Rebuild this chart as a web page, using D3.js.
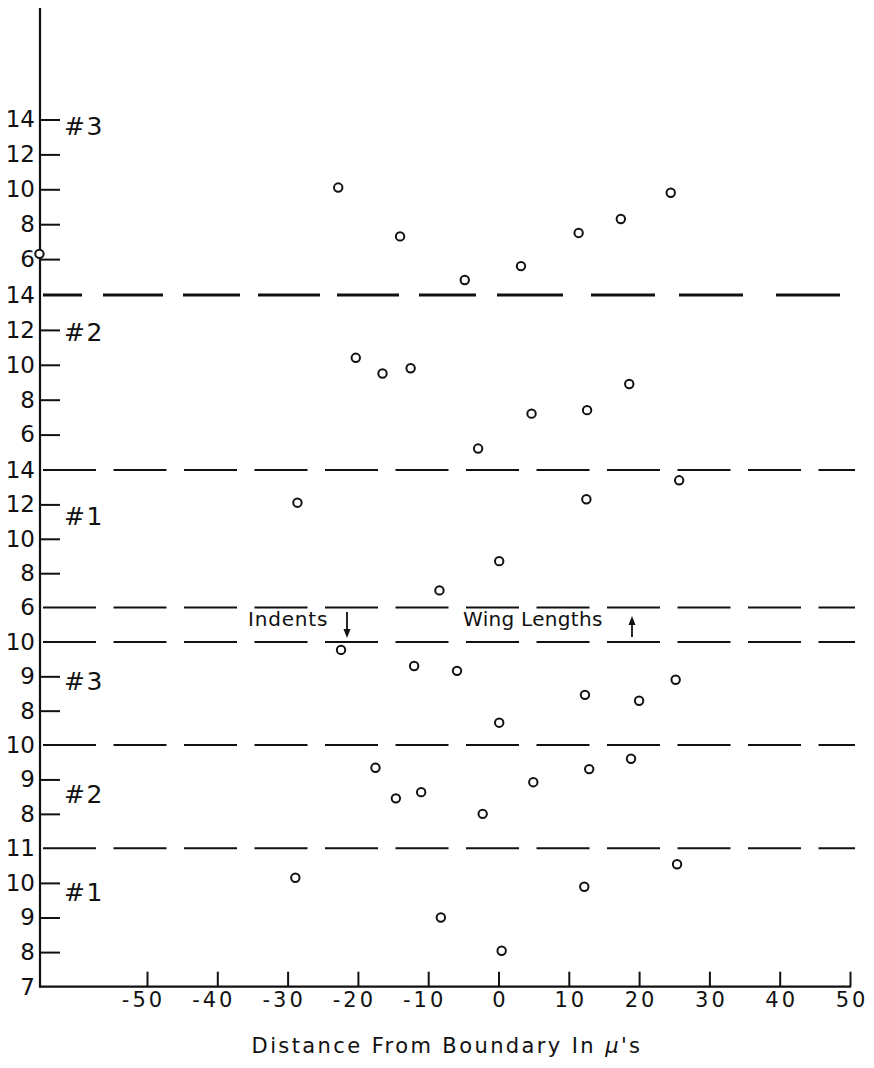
<!DOCTYPE html>
<html>
<head>
<meta charset="utf-8">
<script src="https://cdn.jsdelivr.net/npm/d3@7"></script>
<style>
  body { margin: 0; background: #fff; }
  svg text { font-family: "DejaVu Sans", sans-serif; fill: #111; }
</style>
</head>
<body>
<div id="chart"></div>
<script>
// データ (x = distance from boundary in microns, y = value)
const xTicks = [-50, -40, -30, -20, -10, 0, 10, 20, 30, 40, 50];
const panelNames = ["#3", "#2", "#1", "#3", "#2", "#1"];
const panelDomains = [[4, 14], [4, 14], [4, 14], [7, 10], [7, 10], [7, 11]];
const panelTicks = [[6, 8, 10, 12, 14], [6, 8, 10, 12], [8, 10, 12], [8, 9], [8, 9], [8, 9, 10]];
const panelDashed = [[], [14], [14, 6], [10], [10], [11]];
const panelLabelOnly = [[], [], [], [], [], [7]];
const panelNameAt = [13.6, 11.9, 11.3, 8.86, 8.58, 9.74];

// Wing lengths
const wing3 = [[-65.3, 6.3], [-22.8, 10.1], [-14.0, 7.3], [-4.8, 4.8], [3.2, 5.6], [11.4, 7.5], [17.4, 8.3], [24.5, 9.8]];
const wing2 = [[-20.3, 10.4], [-16.5, 9.5], [-12.5, 9.8], [-2.9, 5.2], [4.7, 7.2], [12.6, 7.4], [18.6, 8.9]];
const wing1 = [[-28.6, 12.1], [-8.4, 7.0], [0.1, 8.7], [12.5, 12.3], [25.7, 13.4]];
// Indents
const indent3 = [[-22.4, 9.77], [-12.0, 9.3], [-5.9, 9.16], [0.1, 7.65], [12.3, 8.46], [20.0, 8.29], [25.2, 8.9]];
const indent2 = [[-17.5, 9.34], [-14.6, 8.45], [-11.0, 8.63], [-2.25, 8.0], [4.95, 8.92], [12.9, 9.3], [18.85, 9.6]];
const indent1 = [[-28.9, 10.15], [-8.2, 9.0], [0.45, 8.04], [12.2, 9.89], [25.4, 10.54]];

const panelData = [wing3, wing2, wing1, indent3, indent2, indent1];

// レイアウト
const width = 874;
const height = 1068;
const axisX = 40;
const axisTop = 8;
const axisBottom = 986.7;
const lineEnd = 855;
const panelRanges = [[294, 119.5], [469.5, 295], [642, 470], [745, 642], [848.3, 745], [986.7, 848.3]];

const svg = d3.select("#chart")
  .append("svg")
  .attr("width", width)
  .attr("height", height);

const x = d3.scaleLinear().domain([-50, 50]).range([147, 850]);
const yScales = panelDomains.map((d, i) => d3.scaleLinear().domain(d).range(panelRanges[i]));

// 破線 (dashed separators)
const topDash = "39,21,60,20,57,18,62,17,62,20,57,21,66,28,64,24,64,33,64,40";
panelDashed.forEach((vals, i) => {
  vals.forEach(v => {
    const yy = yScales[i](v);
    svg.append("line")
      .attr("x1", axisX + 3).attr("x2", i === 1 ? 840 : lineEnd)
      .attr("y1", yy).attr("y2", yy)
      .attr("stroke", "#111")
      .attr("stroke-width", i === 1 ? 2.8 : 2)
      .attr("stroke-dasharray", i === 1 ? topDash : "53,17.5");
  });
});

// y軸の目盛り
panelTicks.forEach((ticks, i) => {
  const g = svg.append("g")
    .attr("transform", `translate(${axisX}, 0)`)
    .call(d3.axisLeft(yScales[i]).tickValues(ticks).tickSizeInner(-20).tickSizeOuter(0).tickPadding(5).tickFormat(d => String(d)));
  g.select(".domain").remove();
  g.selectAll(".tick line").attr("stroke", "#111").attr("stroke-width", 2);
  g.selectAll(".tick text").style("font-size", "23px").attr("fill", "#111");

  const lbl = panelDashed[i].concat(panelLabelOnly[i]);
  const g2 = svg.append("g")
    .attr("transform", `translate(${axisX}, 0)`)
    .call(d3.axisLeft(yScales[i]).tickValues(lbl).tickSize(0).tickPadding(5).tickFormat(d => String(d)));
  g2.select(".domain").remove();
  g2.selectAll(".tick text").style("font-size", "23px").attr("fill", "#111");

  // パネル名
  svg.append("text")
    .attr("x", 64)
    .attr("y", yScales[i](panelNameAt[i]))
    .attr("dy", "0.36em")
    .style("font-size", "25px")
    .style("letter-spacing", "1.5px")
    .text(panelNames[i]);
});

// x軸
const gx = svg.append("g")
  .attr("transform", `translate(0, ${axisBottom})`)
  .call(d3.axisBottom(x).tickValues(xTicks).tickSizeInner(-15).tickSizeOuter(0).tickPadding(5).tickFormat(d => String(d)));
gx.select(".domain").remove();
gx.selectAll(".tick line").attr("stroke", "#111").attr("stroke-width", 2);
gx.selectAll(".tick text")
  .style("font-size", "21px")
  .style("letter-spacing", "3px")
  .attr("fill", "#111")
  .attr("dx", d => d < 0 ? -4 : 1.5);

// 軸線
svg.append("line")
  .attr("x1", axisX).attr("x2", axisX)
  .attr("y1", axisTop).attr("y2", axisBottom + 1)
  .attr("stroke", "#111").attr("stroke-width", 2.2);
svg.append("line")
  .attr("x1", axisX).attr("x2", x(50) + 1)
  .attr("y1", axisBottom).attr("y2", axisBottom)
  .attr("stroke", "#111").attr("stroke-width", 2.2);

// 軸タイトル
const title = svg.append("text")
  .attr("x", 447)
  .attr("y", 1053)
  .attr("text-anchor", "middle")
  .style("font-size", "21px")
  .style("letter-spacing", "2.4px");
title.append("tspan").text("Distance From Boundary In ");
title.append("tspan").style("font-style", "italic").text("μ");
title.append("tspan").text("'s");

// 注記
svg.append("text")
  .attr("x", 248).attr("y", 626)
  .style("font-size", "20px")
  .style("letter-spacing", "0.8px")
  .text("Indents");
svg.append("text")
  .attr("x", 463).attr("y", 626)
  .style("font-size", "20px")
  .style("letter-spacing", "0.3px")
  .text("Wing Lengths");

// 矢印
function arrow(ax, y1, y2) {
  const dir = y2 > y1 ? 1 : -1;
  svg.append("line")
    .attr("x1", ax).attr("x2", ax)
    .attr("y1", y1).attr("y2", y2 - dir * 6)
    .attr("stroke", "#111").attr("stroke-width", 1.8);
  svg.append("path")
    .attr("d", `M${ax - 3.5},${y2 - dir * 9} L${ax + 3.5},${y2 - dir * 9} L${ax},${y2} Z`)
    .attr("fill", "#111");
}
arrow(347, 612, 638);
arrow(632, 637, 616);

// データ点
panelData.forEach((pts, i) => {
  svg.append("g")
    .selectAll("circle")
    .data(pts)
    .join("circle")
    .attr("cx", d => x(d[0]))
    .attr("cy", d => yScales[i](d[1]))
    .attr("r", 4.2)
    .attr("fill", "#fff")
    .attr("stroke", "#111")
    .attr("stroke-width", 2);
});
</script>
</body>
</html>
